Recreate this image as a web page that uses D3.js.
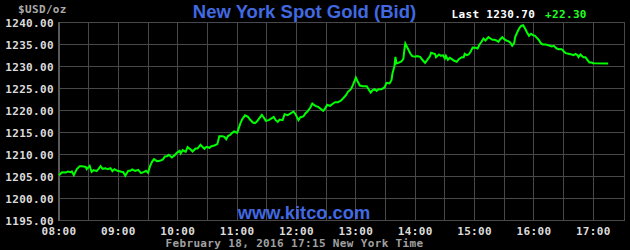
<!DOCTYPE html>
<html>
<head>
<meta charset="utf-8">
<script src="https://cdn.jsdelivr.net/npm/d3@7"></script>
<style>
  html, body { margin: 0; padding: 0; background: #000; }
  svg { display: block; }
  .mono { font-family: "DejaVu Sans Mono", "Liberation Mono", monospace; font-weight: bold; font-size: 11px; letter-spacing: 0.35px; }
  .sans { font-family: "Liberation Sans", Arial, sans-serif; font-weight: bold; }
</style>
</head>
<body>
<svg id="chart" width="630" height="250"></svg>
<script>
// ---- data ----
const times = [
 "08:00","08:03","08:07","08:09","08:12","08:13","08:15","08:18","08:21","08:23","08:27","08:28",
 "08:31","08:33","08:35","08:38","08:40","08:42","08:44","08:47","08:49","08:52","08:54","08:56","08:59",
 "09:02","09:05","09:07","09:10","09:12","09:14","09:17","09:20","09:23","09:26","09:28","09:30",
 "09:32","09:34","09:36","09:39","09:42","09:45","09:47","09:49","09:51","09:54","09:57","09:59",
 "10:02","10:03","10:05","10:08","10:10","10:13","10:15","10:18","10:20","10:23","10:25","10:27","10:29",
 "10:32","10:34","10:37","10:40","10:42","10:45","10:47","10:49","10:51","10:53","10:55","10:57",
 "11:00","11:01","11:03","11:05","11:08","11:11","11:13","11:16","11:18","11:20","11:22","11:25","11:27","11:29",
 "11:32","11:34","11:37","11:39","11:41","11:43","11:46","11:48","11:51","11:53","11:57","11:59",
 "12:02","12:04","12:07","12:09","12:11","12:14","12:16","12:19","12:22","12:25","12:27","12:29",
 "12:31","12:34","12:37","12:39","12:42","12:45","12:47","12:50","12:52","12:55","12:57","12:59",
 "13:00","13:02","13:04","13:07","13:11","13:13","13:15","13:17","13:19","13:21","13:23","13:26","13:29",
 "13:31","13:34","13:36","13:37","13:39","13:40","13:41","13:43","13:46","13:48","13:49","13:50","13:52","13:55","13:57",
 "14:00","14:02","14:05","14:07","14:10","14:12","14:15","14:16","14:20","14:21","14:24","14:26","14:28","14:30",
 "14:31","14:33","14:35","14:37","14:39","14:42","14:44","14:47","14:49","14:50","14:52","14:54","14:56","14:58",
 "15:01","15:03","15:05","15:07","15:09","15:11","15:14","15:16","15:18","15:20","15:22","15:24","15:26","15:28","15:30",
 "15:32","15:34","15:36","15:38","15:40","15:41","15:43","15:45","15:47","15:49","15:51","15:53","15:55","15:57","15:59",
 "16:01","16:03","16:05","16:07","16:09","16:12","16:14","16:16","16:18","16:20","16:23","16:25","16:28","16:30",
 "16:32","16:35","16:38","16:40","16:42","16:44","16:45","16:47","16:49","16:50","16:52","16:54","16:56","16:58",
 "17:00","17:15"
];
const prices = [
 1205.30,1205.98,1205.91,1206.14,1205.98,1206.14,1205.30,1206.67,1207.35,1207.35,1207.20,1206.67,
 1207.42,1206.06,1206.44,1206.21,1206.74,1207.35,1206.74,1206.89,1206.67,1206.89,1206.21,1206.67,1206.29,
 1206.14,1205.98,1205.15,1206.29,1206.29,1206.59,1206.29,1206.52,1205.76,1206.06,1206.29,1205.83,
 1207.35,1208.33,1208.94,1208.48,1208.56,1208.86,1209.55,1209.62,1209.92,1209.32,1209.85,1210.38,
 1210.83,1210.23,1210.98,1210.61,1211.67,1211.14,1210.68,1211.36,1211.36,1212.20,1211.74,1211.29,1211.74,
 1211.52,1211.89,1212.05,1212.35,1214.17,1214.17,1214.02,1213.48,1214.24,1214.47,1214.92,1215.23,
 1214.92,1215.53,1216.89,1217.95,1218.90,1218.56,1217.95,1217.27,1217.12,1217.50,1218.11,1219.02,1218.41,1217.65,
 1217.80,1218.11,1218.56,1217.80,1217.42,1217.95,1217.80,1219.17,1218.94,1219.17,1219.77,1219.17,
 1217.80,1218.48,1218.64,1219.32,1219.77,1220.68,1221.59,1221.06,1220.83,1220.30,1219.92,1220.45,
 1221.29,1221.06,1221.59,1221.89,1221.89,1222.27,1222.73,1223.48,1224.24,1224.85,1225.76,1226.89,
 1227.50,1226.52,1225.68,1225.53,1225.53,1224.77,1224.09,1224.62,1224.85,1224.47,1224.85,1224.85,1225.23,
 1226.29,1226.14,1226.89,1228.41,1230.08,1232.20,1230.68,1230.83,1231.14,1231.74,1233.71,1235.23,1234.32,1232.95,1232.35,
 1232.20,1232.35,1232.20,1231.59,1230.83,1231.44,1232.35,1233.11,1232.85,1232.12,1232.73,1232.42,1232.58,1231.82,
 1232.42,1231.52,1231.97,1231.67,1231.36,1231.06,1231.67,1232.12,1232.12,1232.88,1232.58,1232.73,1233.33,1234.32,
 1234.24,1234.09,1235.00,1235.61,1236.36,1235.91,1236.67,1236.36,1236.06,1236.06,1235.91,1235.61,1236.21,1236.67,1236.21,
 1235.91,1235.76,1235.45,1234.70,1235.30,1236.67,1237.73,1238.64,1239.24,1239.39,1238.64,1237.73,1236.97,1237.42,1237.12,
 1236.97,1236.52,1235.98,1235.30,1235.00,1235.00,1234.85,1234.70,1234.55,1234.70,1234.09,1233.94,1233.94,1233.48,
 1233.03,1232.88,1232.73,1232.58,1232.88,1232.58,1232.12,1232.73,1232.27,1232.12,1232.12,1231.52,1230.91,1230.91,
 1230.76,1230.70
];
const yTicks = [1195, 1200, 1205, 1210, 1215, 1220, 1225, 1230, 1235, 1240];
const xTickLabels = ["08:00","09:00","10:00","11:00","12:00","13:00","14:00","15:00","16:00","17:00"];
const xDomain = ["08:00", "17:32"];
const titleText = "New York Spot Gold (Bid)";
const unitText = "$USD/oz";
const lastText = "Last 1230.70";
const changeText = "+22.30";
const siteText = "www.kitco.com";
const footerText = "February 18, 2016 17:15 New York Time";

// ---- chart ----
const parse = d3.timeParse("%H:%M");
const data = times.map((t, i) => ({ t: parse(t), v: prices[i] }));

const svg = d3.select("#chart");
svg.append("rect").attr("width", 630).attr("height", 250).attr("fill", "#000");

const x = d3.scaleTime().domain(xDomain.map(parse)).range([59, 625]);
const y = d3.scaleLinear().domain([1195, 1240]).range([220.5, 22.5]);

const crisp = v => Math.round(v - 0.5) + 0.5;

// grid
const grid = svg.append("g");
const halfHours = d3.timeMinute.every(30).range(parse("08:30"), parse("17:01"));
grid.selectAll("line.v").data(halfHours).enter().append("line")
  .attr("x1", d => crisp(x(d))).attr("x2", d => crisp(x(d)))
  .attr("y1", y(1240)).attr("y2", y(1195))
  .attr("stroke", "#484848").attr("stroke-width", 1).attr("shape-rendering", "crispEdges");
grid.selectAll("line.h").data(yTicks).enter().append("line")
  .attr("x1", x.range()[0]).attr("x2", x.range()[1])
  .attr("y1", d => y(d)).attr("y2", d => y(d))
  .attr("stroke", "#484848").attr("stroke-width", 1).attr("shape-rendering", "crispEdges");
// right border
grid.append("line")
  .attr("x1", x.range()[1] - 0.5).attr("x2", x.range()[1] - 0.5)
  .attr("y1", y(1240)).attr("y2", y(1195))
  .attr("stroke", "#484848").attr("shape-rendering", "crispEdges");
// left axis line
svg.append("line")
  .attr("x1", x.range()[0]).attr("x2", x.range()[0])
  .attr("y1", y(1240) - 0.5).attr("y2", y(1195) + 0.5)
  .attr("stroke", "#5a5a5a").attr("stroke-width", 2).attr("shape-rendering", "crispEdges");

// y labels
svg.selectAll("text.yl").data(yTicks).enter().append("text")
  .attr("class", "mono")
  .attr("x", 54).attr("y", d => y(d) + 4)
  .attr("text-anchor", "end").attr("fill", "#dcdcdc")
  .text(d => d3.format(".2f")(d));

// x labels
svg.selectAll("text.xl").data(xTickLabels).enter().append("text")
  .attr("class", "mono")
  .attr("x", d => x(parse(d))).attr("y", 234.5)
  .attr("text-anchor", "middle").attr("fill", "#dcdcdc")
  .text(d => d);

// website
svg.append("text").attr("class", "sans")
  .attr("x", 304).attr("y", 219).attr("text-anchor", "middle")
  .attr("font-size", 18.3).attr("fill", "#4169e1")
  .text(siteText);

// price line
const line = d3.line().x(d => x(d.t)).y(d => y(d.v));
svg.append("path").datum(data)
  .attr("d", line)
  .attr("fill", "none").attr("stroke", "#00ff00").attr("stroke-width", 2)
  .attr("stroke-linejoin", "miter");

// unit label
svg.append("text").attr("class", "mono")
  .attr("x", 18).attr("y", 12.5).attr("fill", "#aaaaaa")
  .text(unitText);

// title
svg.append("text").attr("class", "sans")
  .attr("x", 304.5).attr("y", 17.5).attr("text-anchor", "middle")
  .attr("font-size", 18.5).attr("fill", "#4169e1")
  .text(titleText);

// last value
svg.append("text").attr("class", "mono")
  .attr("x", 451.5).attr("y", 18.3).attr("fill", "#ffffff")
  .text(lastText);
svg.append("text").attr("class", "mono")
  .attr("x", 545).attr("y", 18.3).attr("fill", "#22ff22")
  .text(changeText);

// footer
svg.append("text").attr("class", "mono")
  .attr("x", 165.5).attr("y", 247.3).attr("fill", "#a0a0a0")
  .text(footerText);
</script>
</body>
</html>
